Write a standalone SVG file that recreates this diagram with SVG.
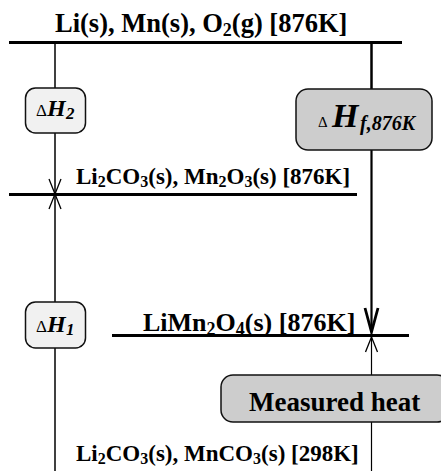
<svg xmlns="http://www.w3.org/2000/svg" width="441" height="471" viewBox="0 0 441 471">
  <style>
    .lbl { font-family: "Liberation Serif", "Times New Roman", serif; font-weight: bold; fill: #000; }
    .lvl { stroke: #000; stroke-width: 3; fill: none; }
    .con { stroke: #000; stroke-width: 1.5; fill: none; }
    .box-light { fill: #f1f1f1; stroke: #111; stroke-width: 1.5; }
    .box-dark { fill: #cdcdcd; stroke: #111; stroke-width: 1.5; }
    .dl { font-family: "Liberation Serif", "Times New Roman", serif; font-weight: bold; fill: #000; }
    .hi { font-style: italic; }
  </style>
  <defs>
    <marker id="thin" viewBox="-16 -8 18 16" markerWidth="18" markerHeight="16" refX="0" refY="0" markerUnits="userSpaceOnUse" orient="auto">
      <path d="M-15,-6 L0,0 L-15,6" fill="none" stroke="#000" stroke-width="1.3"/>
    </marker>
    <marker id="thick" viewBox="-27 -9 29 18" markerWidth="29" markerHeight="18" refX="0" refY="0" markerUnits="userSpaceOnUse" orient="auto">
      <path d="M-24,-6.5 L0,0 L-24,6.5" fill="none" stroke="#000" stroke-width="2.8" stroke-linejoin="miter"/>
    </marker>
  </defs>

  <rect width="441" height="471" fill="#fff"/>

  <g id="connectors">
    <line class="con" x1="55" y1="42" x2="55" y2="88"/>
    <line class="con" x1="55" y1="133" x2="55" y2="194" marker-end="url(#thin)"/>
    <line class="con" x1="55" y1="471" x2="55" y2="348"/>
    <line class="con" x1="55" y1="302" x2="55" y2="194" marker-end="url(#thin)"/>
    <line class="con" x1="371.5" y1="42" x2="371.5" y2="89" style="stroke-width:2.5"/>
    <line class="con" x1="371.5" y1="150" x2="371.5" y2="332" style="stroke-width:2.2" marker-end="url(#thick)"/>
    <line class="con" x1="371.5" y1="471" x2="371.5" y2="422" style="stroke-width:1.2"/>
    <line class="con" x1="371.5" y1="375" x2="371.5" y2="337" style="stroke-width:1.2" marker-end="url(#thin)"/>
  </g>

  <g id="level-elements">
    <line class="lvl" x1="9" y1="42.5" x2="402" y2="42.5"/>
    <text class="lbl" x="55" y="32" font-size="26.5">Li(s), Mn(s), O<tspan font-size="18" dy="4">2</tspan><tspan dy="-4">(g) [876K]</tspan></text>
  </g>

  <g id="level-carbonate-876">
    <line class="lvl" x1="9" y1="194.5" x2="357" y2="194.5"/>
    <text class="lbl" x="76" y="184" font-size="23">Li<tspan font-size="16" dy="3">2</tspan><tspan dy="-3">CO</tspan><tspan font-size="16" dy="3">3</tspan><tspan dy="-3">(s), Mn</tspan><tspan font-size="16" dy="3">2</tspan><tspan dy="-3">O</tspan><tspan font-size="16" dy="3">3</tspan><tspan dy="-3">(s) [876K]</tspan></text>
  </g>

  <g id="level-limn2o4">
    <line class="lvl" x1="112" y1="335.5" x2="409" y2="335.5"/>
    <text class="lbl" x="143" y="331" font-size="26">LiMn<tspan font-size="18" dy="4">2</tspan><tspan dy="-4">O</tspan><tspan font-size="18" dy="4">4</tspan><tspan dy="-4">(s) [876K]</tspan></text>
  </g>

  <g id="level-carbonate-298">
    <text class="lbl" x="76" y="461" font-size="23">Li<tspan font-size="16" dy="3">2</tspan><tspan dy="-3">CO</tspan><tspan font-size="16" dy="3">3</tspan><tspan dy="-3">(s), MnCO</tspan><tspan font-size="16" dy="3">3</tspan><tspan dy="-3">(s) [298K]</tspan></text>
  </g>

  <g id="box-dH2">
    <rect class="box-light" x="25.5" y="88" width="60" height="45" rx="10"/>
    <text class="dl" y="116"><tspan x="36" font-size="17" font-weight="normal">Δ</tspan><tspan x="47" font-size="24" class="hi">H</tspan><tspan x="66" dy="3" font-size="17" class="hi">2</tspan></text>
  </g>

  <g id="box-dHf">
    <rect class="box-dark" x="296" y="89" width="136" height="61" rx="12"/>
    <text class="dl" y="127"><tspan x="318" font-size="15" font-weight="normal">Δ</tspan><tspan x="332" font-size="34" class="hi">H</tspan><tspan x="360" dy="3" font-size="20" class="hi">f,876K</tspan></text>
  </g>

  <g id="box-dH1">
    <rect class="box-light" x="25.5" y="302" width="60" height="46" rx="10"/>
    <text class="dl" y="332"><tspan x="36" font-size="17" font-weight="normal">Δ</tspan><tspan x="47" font-size="24" class="hi">H</tspan><tspan x="66" dy="3" font-size="17" class="hi">1</tspan></text>
  </g>

  <g id="box-measured-heat">
    <rect class="box-dark" x="221" y="375" width="228" height="47" rx="12"/>
    <text class="lbl" x="249" y="411" font-size="27">Measured heat</text>
  </g>
</svg>
